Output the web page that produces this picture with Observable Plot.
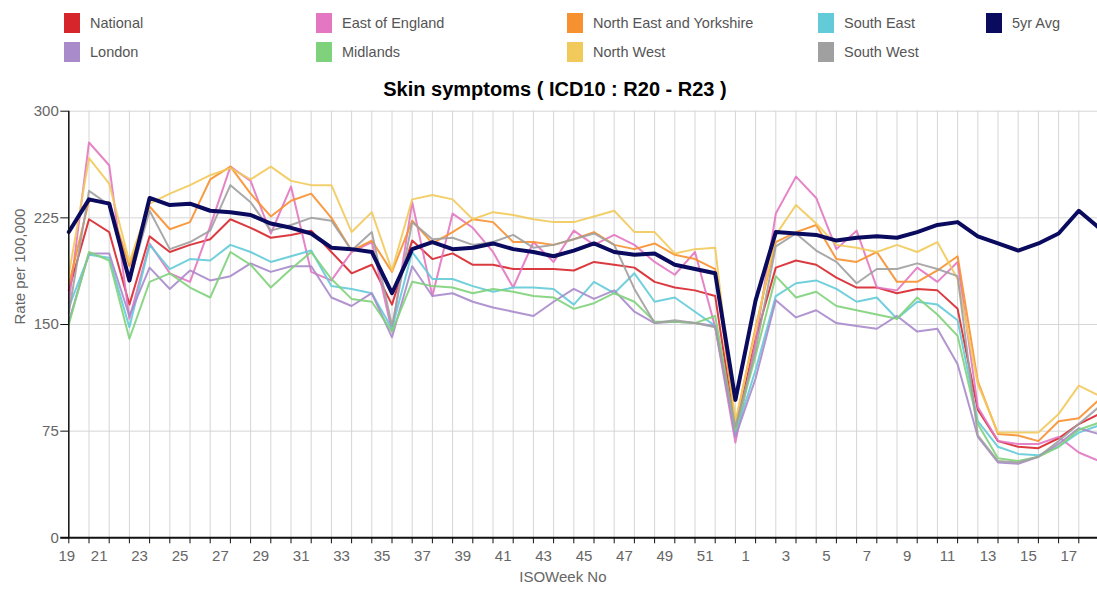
<!DOCTYPE html>
<html><head><meta charset="utf-8">
<script src="https://cdn.jsdelivr.net/npm/d3@7"></script>
<script src="https://cdn.jsdelivr.net/npm/@observablehq/plot@0.6"></script>
<style>
body{margin:0;background:#fff;font-family:Arial,"Liberation Sans",sans-serif;}
#wrap{position:relative;width:1097px;height:596px;overflow:hidden;background:#fff;}
#chart{position:absolute;left:0;top:0;}
.lg{position:absolute;display:flex;align-items:center;font-size:14.5px;color:#555;white-space:nowrap;height:20px;}
.sw{width:16px;height:20px;margin-right:10px;flex:none;}
#title{position:absolute;left:0;width:1110px;top:78px;text-align:center;font-weight:bold;font-size:20px;color:#000;}
</style></head>
<body><div id="wrap"><div id="chart"></div><div id="legend"></div><div id="title">Skin symptoms ( ICD10 : R20 - R23 )</div></div>
<script>
// ISO week tick labels (week 19 of one year to week 18 of the next)
const weeks = [19,20,21,22,23,24,25,26,27,28,29,30,31,32,33,34,35,36,37,38,39,40,41,42,43,44,45,46,47,48,49,50,51,52,1,2,3,4,5,6,7,8,9,10,11,12,13,14,15,16,17,18];
const yTicks = [0,75,150,225,300];

const seriesNames = ["National","East of England","North East and Yorkshire","South East","5yr Avg","London","Midlands","North West","South West"];
const seriesColors = ["#d7262b","#e377c2","#f7902f","#63cbd8","#0a0a5e","#a98acb","#80d17b","#f2ca5c","#a0a0a0"];

const national    = [174,224,215,164,212,201,206,210,224,218,211,213,216,201,186,192,164,209,196,200,192,192,189,189,189,188,194,192,190,180,176,174,170,75,140,190,195,192,183,176,176,172,175,174,161,90,68,64,63,70,80,87];
const eastEngland = [165,278,262,154,207,186,180,219,261,251,214,247,187,181,201,208,145,236,170,228,218,201,176,208,194,216,206,213,206,194,185,201,148,67,138,228,254,239,203,216,176,174,190,180,194,92,68,66,66,71,60,54];
const neYorkshire = [178,237,236,191,233,217,222,252,261,242,226,237,242,225,202,209,187,223,207,215,224,222,208,208,206,210,215,206,203,207,199,196,189,80,148,208,215,220,196,194,201,180,180,188,198,110,73,72,68,82,84,97];
const southEast   = [162,199,197,148,206,189,196,195,206,201,194,198,202,177,175,172,147,201,182,182,177,173,176,176,175,164,180,172,186,166,169,159,149,73,118,170,179,181,175,166,169,154,166,164,153,82,64,59,58,64,74,79];
const avg5yr      = [215,238,235,181,239,234,235,230,229,227,221,218,214,204,203,201,172,203,208,203,204,207,203,201,198,202,207,201,199,200,192,189,186,97,167,215,214,213,209,211,212,211,215,220,222,212,207,202,207,214,230,218];
const london      = [152,200,200,156,190,175,188,181,184,193,187,191,191,169,163,172,141,191,170,172,166,162,159,156,166,175,168,174,159,151,152,151,149,71,112,167,155,160,151,149,147,156,145,147,122,71,53,52,57,66,77,73];
const midlands    = [150,201,195,140,180,186,176,169,201,192,176,189,201,182,168,166,145,180,177,176,172,175,173,170,169,161,165,172,166,152,152,151,156,76,128,184,169,173,163,160,157,154,169,157,142,80,56,54,57,64,76,81];
const northWest   = [185,267,249,194,235,242,248,255,260,252,261,251,248,248,215,229,188,238,241,238,224,229,227,224,222,222,226,230,215,215,200,203,204,82,146,213,234,221,206,204,201,206,201,208,182,108,74,74,74,87,107,100];
const southWest   = [158,244,234,180,230,203,208,216,248,236,216,220,225,223,202,215,149,222,210,211,206,208,213,204,206,210,214,206,175,151,153,151,148,78,132,205,214,202,194,179,189,189,193,189,184,72,54,53,57,68,80,92];

const seriesValues = [national,eastEngland,neYorkshire,southEast,avg5yr,london,midlands,northWest,southWest];

const rows = [];
seriesNames.forEach((name, s) => seriesValues[s].forEach((v, i) => rows.push({i, v, name})));
const regionRows = rows.filter(d => d.name !== "5yr Avg");
const avgRows = rows.filter(d => d.name === "5yr Avg");
const idx = weeks.map((w, i) => i);
const labels = weeks.map((w, i) => ({i, w})).filter(d => d.i % 2 === 0);

const fontFamily = "Arial, 'Liberation Sans', sans-serif";
const chart = Plot.plot({
  width: 1097, height: 596,
  marginTop: 110.7, marginBottom: 58.7, marginLeft: 68.3, marginRight: -1.5,
  x: {type: "linear", domain: [0, weeks.length - 1], axis: null},
  y: {domain: [0, 300], axis: null},
  color: {domain: seriesNames, range: seriesColors},
  style: {fontFamily, color: "#666", background: "transparent", overflow: "hidden"},
  marks: [
    Plot.gridX(idx, {stroke: "#d6d6d6", strokeOpacity: 1, strokeWidth: 1}),
    Plot.gridY(yTicks.filter(t => t > 0), {stroke: "#d6d6d6", strokeOpacity: 1, strokeWidth: 1}),
    Plot.line(regionRows, {x: "i", y: "v", z: "name", stroke: "name", strokeWidth: 2, strokeOpacity: 0.9, curve: "linear"}),
    Plot.line(avgRows, {x: "i", y: "v", stroke: "name", strokeWidth: 4, curve: "linear"}),
    Plot.ruleX([0], {stroke: "#111", strokeWidth: 1.5}),
    Plot.ruleY([0], {stroke: "#111", strokeWidth: 2, insetLeft: -8}),
    Plot.axisY(yTicks, {tickSize: 8, tickPadding: 2, fontSize: 15, stroke: "#111", fill: "#666", label: null}),
    Plot.axisX(idx, {tickSize: 6, tickFormat: () => "", stroke: "#111", label: null}),
    Plot.text(labels.slice(0, 1), {x: "i", text: "w", frameAnchor: "bottom", dy: 23, dx: -2, fontSize: 15, fill: "#666"}),
    Plot.text(labels.slice(1), {x: "i", text: "w", frameAnchor: "bottom", dy: 23, dx: -10, fontSize: 15, fill: "#666"}),
    Plot.text(["ISOWeek No"], {frameAnchor: "bottom", dy: 44, dx: -21, fontSize: 15, fill: "#666"}),
    Plot.text(["Rate per 100,000"], {frameAnchor: "left", dx: -49, rotate: -90, fontSize: 15, fill: "#666"})
  ]
});
document.getElementById("chart").appendChild(chart);

// legend (row-major, 5 columns)
const legendOrder = ["National","East of England","North East and Yorkshire","South East","5yr Avg","London","Midlands","North West","South West"];
const colX = [64, 316, 567, 818, 986];
const rowY = [13, 42];
const legend = document.getElementById("legend");
legendOrder.forEach((name, k) => {
  const el = document.createElement("div");
  el.className = "lg";
  el.style.left = colX[k % 5] + "px";
  el.style.top = rowY[Math.floor(k / 5)] + "px";
  const sw = document.createElement("span");
  sw.className = "sw";
  sw.style.background = seriesColors[seriesNames.indexOf(name)];
  el.appendChild(sw);
  el.appendChild(document.createTextNode(name));
  legend.appendChild(el);
});
</script>
</body></html>
